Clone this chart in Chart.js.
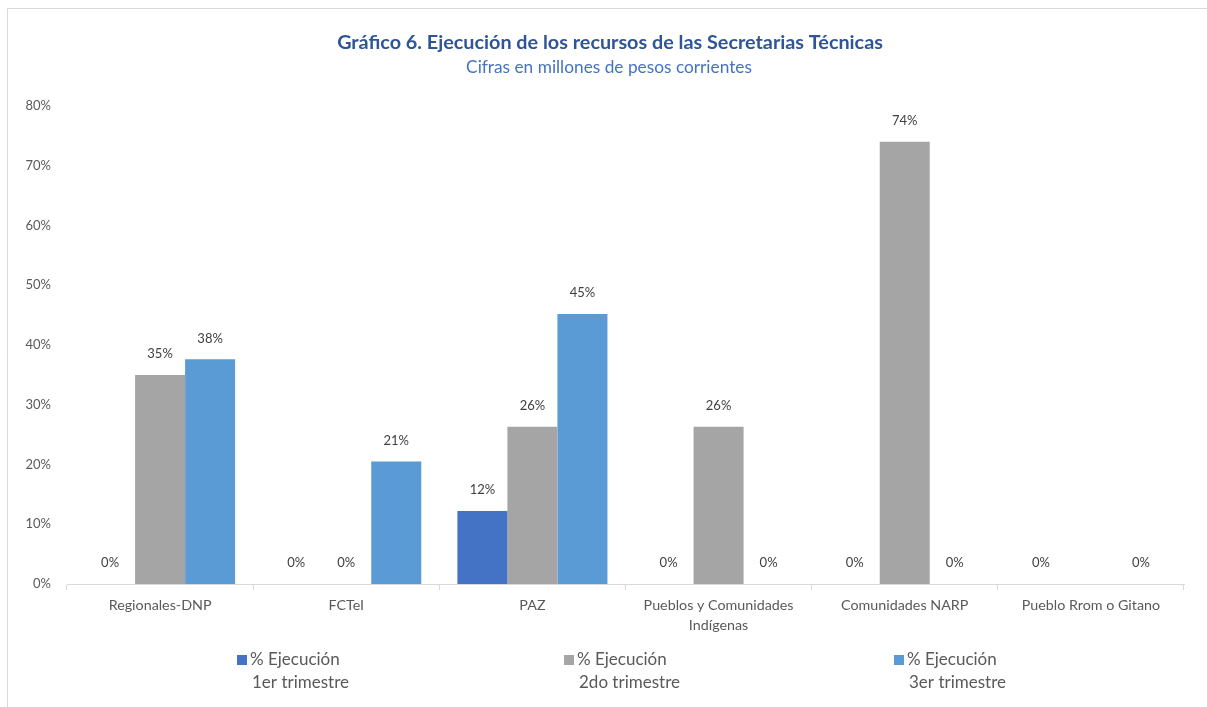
<!DOCTYPE html>
<html>
<head>
<meta charset="utf-8">
<script src="https://cdn.jsdelivr.net/npm/chart.js@4/dist/chart.umd.min.js"></script>
<style>
  html, body { margin: 0; padding: 0; background: #fff; }
  #wrap { position: relative; width: 1207px; height: 707px; }
</style>
</head>
<body>
<div id="wrap"><canvas id="chart" width="1207" height="707"></canvas></div>
<script>
// datos del gráfico
const categories = [
  "Regionales-DNP",
  "FCTeI",
  "PAZ",
  ["Pueblos y Comunidades", "Indígenas"],
  "Comunidades NARP",
  "Pueblo Rrom o Gitano"
];
const seriesNames = [
  ["% Ejecución", "1er trimestre"],
  ["% Ejecución", "2do trimestre"],
  ["% Ejecución", "3er trimestre"]
];
const trim1 = [0, 0, 12.2, 0, 0, 0];
const trim2 = [35.0, 0, 26.3, 26.3, 74.0, null];
const trim3 = [37.6, 20.5, 45.2, 0, 0, 0];
const yTicks = [0, 10, 20, 30, 40, 50, 60, 70, 80];

const colors = ["#4472C4", "#A5A5A5", "#5B9BD5"];
const FONT = "Lato";

// etiquetas sobre las barras
const barLabels = {
  id: "barLabels",
  afterDatasetsDraw(chart) {
    const ctx = chart.ctx;
    ctx.save();
    ctx.font = "13px " + FONT;
    ctx.fillStyle = "#404040";
    ctx.textAlign = "center";
    ctx.textBaseline = "middle";
    chart.data.datasets.forEach((ds, i) => {
      chart.getDatasetMeta(i).data.forEach((bar, j) => {
        const v = ds.data[j];
        if (v === null) return;
        ctx.fillText(Math.round(v) + "%", bar.x, bar.y - 21);
      });
    });
    ctx.restore();
  }
};

// título, marco y leyenda
const decor = {
  id: "decor",
  beforeDraw(chart) {
    const ctx = chart.ctx;
    ctx.save();
    ctx.strokeStyle = "#d9d9d9";
    ctx.lineWidth = 1;
    ctx.beginPath();
    ctx.moveTo(7.5, 707);
    ctx.lineTo(7.5, 8.5);
    ctx.lineTo(1207, 8.5);
    ctx.stroke();
    ctx.restore();
  },
  afterDraw(chart) {
    const ctx = chart.ctx;
    ctx.save();
    ctx.textAlign = "center";
    ctx.textBaseline = "middle";
    ctx.fillStyle = "#2F5597";
    ctx.font = "bold 19.8px " + FONT;
    ctx.fillText("Gráfico 6. Ejecución de los recursos de las Secretarias Técnicas", 610, 43);
    ctx.fillStyle = "#4472C4";
    ctx.font = "17.3px " + FONT;
    ctx.fillText("Cifras en millones de pesos corrientes", 609, 67);

    const boxX = [237, 564, 894];
    ctx.font = "17px " + FONT;
    chart.data.datasets.forEach((ds, i) => {
      const x = boxX[i];
      ctx.fillStyle = ds.backgroundColor;
      ctx.fillRect(x, 655, 10, 10);
      ctx.fillStyle = "#595959";
      ctx.textAlign = "left";
      ctx.fillText(ds.label[0], x + 13, 660);
      ctx.fillText(ds.label[1], x + 15, 683);
    });
    ctx.restore();
  }
};

new Chart(document.getElementById("chart"), {
  type: "bar",
  data: {
    labels: categories,
    datasets: [
      { label: seriesNames[0], data: trim1, backgroundColor: colors[0] },
      { label: seriesNames[1], data: trim2, backgroundColor: colors[1] },
      { label: seriesNames[2], data: trim3, backgroundColor: colors[2] }
    ]
  },
  options: {
    responsive: false,
    animation: false,
    categoryPercentage: 0.806,
    barPercentage: 1.0,
    layout: { padding: { top: 106, right: 23, bottom: 0, left: 0 } },
    plugins: {
      legend: { display: false },
      tooltip: { enabled: false }
    },
    scales: {
      x: {
        afterFit: (s) => { s.height = 123; },
        border: { color: "#d9d9d9", width: 1 },
        grid: { display: true, drawOnChartArea: false, offset: true, tickLength: 6, color: "#d9d9d9" },
        ticks: { color: "#595959", font: { family: FONT, size: 14.3, lineHeight: 1.4 }, padding: 5, maxRotation: 0, autoSkip: false }
      },
      y: {
        min: 0,
        max: 80,
        afterFit: (s) => { s.width = 67; },
        afterBuildTicks: (s) => { s.ticks = yTicks.map(v => ({ value: v })); },
        border: { display: false },
        grid: { display: false },
        ticks: {
          color: "#595959",
          font: { family: FONT, size: 13 },
          padding: 8,
          callback: (v) => v + "%"
        }
      }
    }
  },
  plugins: [barLabels, decor]
});
</script>
</body>
</html>
